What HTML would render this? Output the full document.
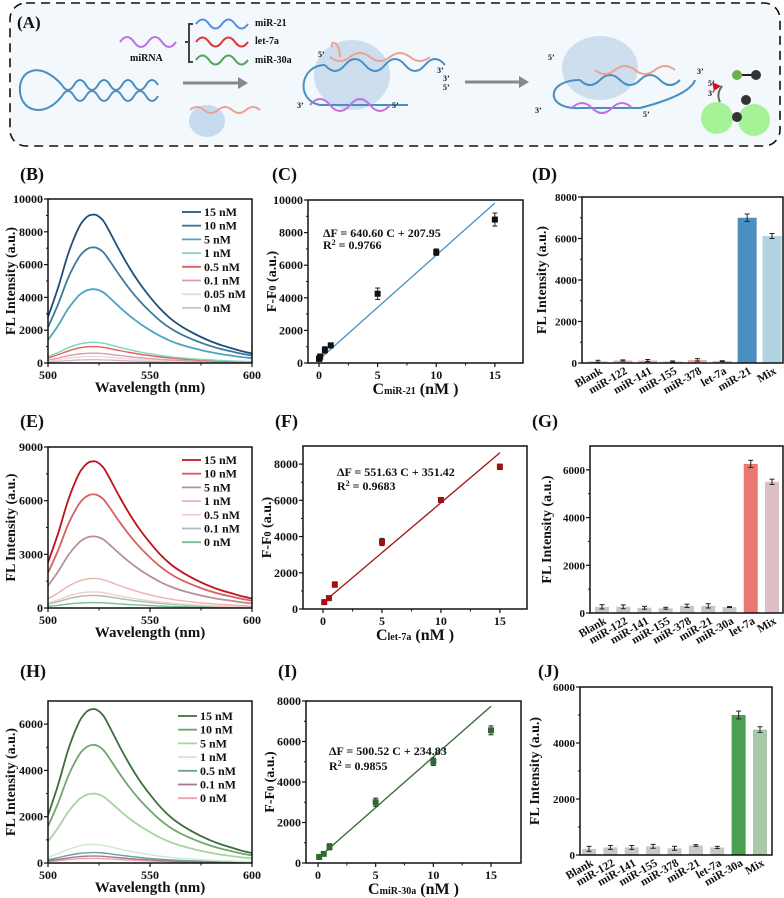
<!DOCTYPE html>
<html><head><meta charset="utf-8">
<style>
html,body{margin:0;padding:0;background:#fff;}
svg{display:block;font-family:"Liberation Serif",serif;}
text{font-weight:bold;fill:#111;}
</style></head>
<body>
<svg id="fig" width="784" height="898" viewBox="0 0 784 898" xmlns="http://www.w3.org/2000/svg">
<g>
  <rect x="10" y="3" width="770" height="143" rx="16" fill="#f3f8fc" stroke="#111" stroke-width="1.6" stroke-dasharray="9,6"/>
  <text x="17" y="28" font-size="17">(A)</text>
  <path d="M120 42 q7 -10 14 0 t14 0 t14 0 t14 0" fill="none" stroke="#c070e0" stroke-width="2"/>
  <text x="130" y="61" font-size="10">miRNA</text>
  <path d="M193 24 h-4 v38 h4 M189 42 h-4" fill="none" stroke="#444" stroke-width="2"/>
  <path d="M196 24 q6.5 -9 13 0 t13 0 t13 0 t13 0" fill="none" stroke="#5b8fd8" stroke-width="2"/>
  <path d="M196 42 q6.5 -9 13 0 t13 0 t13 0 t13 0" fill="none" stroke="#d83a3a" stroke-width="2"/>
  <path d="M196 60 q6.5 -9 13 0 t13 0 t13 0 t13 0" fill="none" stroke="#5aa060" stroke-width="2"/>
  <text x="255" y="26" font-size="10">miR-21</text>
  <text x="255" y="44" font-size="10">let-7a</text>
  <text x="255" y="63" font-size="10">miR-30a</text>
  <g fill="none" stroke="#4a8fc0" stroke-width="2">
    <path d="M62 85 C40 60 18 70 20 92 C22 112 45 118 62 96"/>
    <path d="M62 85 q6 10 12 0 t12 0 t12 0 t12 0 t12 0 t12 0 t12 0 t12 0"/>
    <path d="M62 96 q6 -10 12 0 t12 0 t12 0 t12 0 t12 0 t12 0 t12 0 t12 0"/>
  </g>
  <path d="M183 83 h56" stroke="#888" stroke-width="3"/>
  <path d="M238 77 l10 6 l-10 6z" fill="#888"/>
  <ellipse cx="207" cy="121" rx="18" ry="16" fill="#bcd3ea" opacity="0.8"/>
  <path d="M190 110 q7 -6 14 0 t14 0 t14 0 t14 0 t14 0" fill="none" stroke="#f0a090" stroke-width="2"/>
  <g>
    <ellipse cx="352" cy="75" rx="38" ry="35" fill="#bcd3ea" opacity="0.7"/>
    <path d="M325 65 C300 65 295 100 320 105 L408 105" fill="none" stroke="#4a8fc0" stroke-width="2"/>
    <path d="M325 65 q10 12 20 0 t20 0 t20 0 t20 0 t20 0 t20 0" fill="none" stroke="#4a8fc0" stroke-width="2"/>
    <path d="M330 57 q10 8 20 0 t20 0 t20 0 t20 0 t20 0" fill="none" stroke="#f0a090" stroke-width="2"/>
    <path d="M340 57 c0 -15 -10 -18 -8 -10" fill="none" stroke="#f0a090" stroke-width="2"/>
    <path d="M310 105 q10 -12 20 0 t20 0 t20 0 t20 0" fill="none" stroke="#c070e0" stroke-width="2"/>
    <text x="318" y="57" font-size="8">5’</text><text x="437" y="73" font-size="8">3’</text>
    <text x="443" y="81" font-size="8">3’</text><text x="443" y="90" font-size="8">5’</text>
    <text x="297" y="108" font-size="8">3’</text><text x="392" y="108" font-size="8">5’</text>
  </g>
  <path d="M465 82 h55" stroke="#888" stroke-width="3"/>
  <path d="M519 76 l10 6 l-10 6z" fill="#888"/>
  <g>
    <ellipse cx="600" cy="68" rx="38" ry="32" fill="#bcd3ea" opacity="0.7"/>
    <path d="M580 80 C545 80 545 110 580 108 L640 108 Q690 95 695 80" fill="none" stroke="#4a8fc0" stroke-width="2"/>
    <path d="M580 80 q10 10 20 0 t20 0 t20 0 t20 0 t20 0" fill="none" stroke="#4a8fc0" stroke-width="2"/>
    <path d="M595 70 q10 8 20 0 t20 0 t20 0 t20 0" fill="none" stroke="#f0a090" stroke-width="2"/>
    <path d="M572 108 q10 -10 20 0 t20 0 t20 0" fill="none" stroke="#c070e0" stroke-width="2"/>
    <text x="548" y="60" font-size="8">5’</text><text x="697" y="74" font-size="8">3’</text>
    <text x="535" y="113" font-size="8">3’</text><text x="643" y="117" font-size="8">5’</text>
  </g>
  <g>
    <circle cx="717" cy="118" r="16" fill="#66ee44" opacity="0.55"/>
    <circle cx="754" cy="120" r="16" fill="#66ee44" opacity="0.55"/>
    <circle cx="737" cy="75" r="5" fill="#6ab04a"/><path d="M742 75 h10" stroke="#222" stroke-width="2"/><circle cx="756" cy="75" r="5" fill="#333"/>
    <path d="M712 82 l9 4 l-7 5z" fill="#d01020"/>
    <path d="M722 86 q-6 8 -2 16" fill="none" stroke="#666" stroke-width="2"/>
    <circle cx="746" cy="100" r="5" fill="#333"/><circle cx="737" cy="117" r="5" fill="#333"/>
    <text x="708" y="86" font-size="8">5’</text><text x="708" y="96" font-size="8">3’</text>
  </g>
</g>
</svg>
<script>
// ===== Spectra data =====
const wavelengths = [500,505,510,515,518,520,522,524,527,530,535,540,545,550,555,560,565,570,575,580,585,590,595,600];
const spectrumShape = [0.31,0.51,0.74,0.91,0.97,0.993,1.0,0.995,0.96,0.89,0.76,0.64,0.535,0.445,0.365,0.30,0.25,0.21,0.175,0.145,0.12,0.10,0.08,0.065];
const concLabelsB = ["15 nM","10 nM","5 nM","1 nM","0.5 nM","0.1 nM","0.05 nM","0 nM"];
const peaksB = [9050,7050,4500,1260,1000,600,400,200];
const concLabelsE = ["15 nM","10 nM","5 nM","1 nM","0.5 nM","0.1 nM","0 nM"];
const peaksE = [8200,6350,4000,1650,900,700,300];
const concLabelsH = ["15 nM","10 nM","5 nM","1 nM","0.5 nM","0.1 nM","0 nM"];
const peaksH = [6650,5100,3000,800,450,300,200];
const yTicksB = [0,2000,4000,6000,8000,10000];
const yTicksE = [0,3000,6000,9000];
const yTicksH = [0,2000,4000,6000];
const xTicksSpec = [500,550,600];
// ===== Calibration data =====
const concC = [0,0.05,0.1,0.5,1,5,10,15];
const dfC = [250,300,400,800,1080,4250,6800,8800];
const errC = [80,80,100,200,150,350,200,400];
const fitC = [640.60,207.95];
const concF = [0.1,0.5,1,5,10,15];
const dfF = [380,600,1350,3700,6020,7850];
const errF = [120,80,150,200,120,150];
const fitF = [551.63,351.42];
const concI = [0.1,0.5,1,5,10,15];
const dfI = [300,450,800,3000,5000,6550];
const errI = [120,80,150,200,180,220];
const fitI = [500.52,234.83];
const xTicksCal = [0,5,10,15];
const yTicksC = [0,2000,4000,6000,8000,10000];
const yTicksF = [0,2000,4000,6000,8000];
const yTicksI = [0,2000,4000,6000,8000];
// ===== Selectivity data =====
const catsD = ["Blank","miR-122","miR-141","miR-155","miR-378","let-7a","miR-21","Mix"];
const valsD = [80,120,120,70,150,90,7000,6120];
const errsD = [50,30,50,30,60,20,180,120];
const catsG = ["Blank","miR-122","miR-141","miR-155","miR-378","miR-21","miR-30a","let-7a","Mix"];
const valsG = [260,260,220,200,300,300,250,6250,5500];
const errsG = [90,80,60,40,70,90,20,150,110];
const catsJ = ["Blank","miR-122","miR-141","miR-155","miR-378","miR-21","let-7a","miR-30a","Mix"];
const valsJ = [220,270,270,310,240,340,270,5000,4480];
const errsJ = [90,70,70,70,70,30,40,140,100];
const yTicksD = [0,2000,4000,6000,8000];
const yTicksG = [0,2000,4000,6000];
const yTicksJ = [0,2000,4000,6000];

const NS = "http://www.w3.org/2000/svg";
const svg = document.getElementById('fig');
function mk(tag, attrs, parent){
  const e = document.createElementNS(NS, tag);
  for (const k in attrs) e.setAttribute(k, attrs[k]);
  (parent||svg).appendChild(e);
  return e;
}
function lin(d0,d1,r0,r1){ return v => r0 + (v-d0)/(d1-d0)*(r1-r0); }
function smoothPath(pts){
  let d = 'M'+pts[0][0].toFixed(1)+' '+pts[0][1].toFixed(1);
  for (let i=0;i<pts.length-1;i++){
    const p0=pts[i-1]||pts[i], p1=pts[i], p2=pts[i+1], p3=pts[i+2]||p2;
    const c1=[p1[0]+(p2[0]-p0[0])/6, p1[1]+(p2[1]-p0[1])/6];
    const c2=[p2[0]-(p3[0]-p1[0])/6, p2[1]-(p3[1]-p1[1])/6];
    d += ' C'+c1[0].toFixed(1)+' '+c1[1].toFixed(1)+' '+c2[0].toFixed(1)+' '+c2[1].toFixed(1)+' '+p2[0].toFixed(1)+' '+p2[1].toFixed(1);
  }
  return d;
}

function frame(g, x0, x1, yT, yB){
  const f = mk('rect',{x:x0,y:yT,width:x1-x0,height:yB-yT,fill:'none',stroke:'#111','stroke-width':1.5},g);
  
  
}
function yAxis(g, ys, ticks, x0, fs){
  const ga = mk('g',{},g);
  
  
  ticks.forEach(t=>{
    mk('line',{x1:x0-4,x2:x0,y1:ys(t),y2:ys(t),stroke:'#111','stroke-width':1.2},ga);
    const tx = mk('text',{x:x0-5,y:ys(t)+4,'font-size':fs||12,'text-anchor':'end'},ga);
    tx.textContent = t;
    
    
  });
  for (let i=0;i<ticks.length-1;i++){
    const m=(ticks[i]+ticks[i+1])/2;
    mk('line',{x1:x0-2,x2:x0,y1:ys(m),y2:ys(m),stroke:'#111','stroke-width':1},ga);
  }
}
function xAxis(g, xs, ticks, yB){
  const ga = mk('g',{},g);
  
  
  ticks.forEach(t=>{
    mk('line',{x1:xs(t),x2:xs(t),y1:yB,y2:yB+4,stroke:'#111','stroke-width':1.2},ga);
    const tx = mk('text',{x:xs(t),y:yB+16,'font-size':12,'text-anchor':'middle'},ga);
    tx.textContent = t;
    
    
  });
  for (let i=0;i<ticks.length-1;i++){
    const m=(ticks[i]+ticks[i+1])/2;
    mk('line',{x1:xs(m),x2:xs(m),y1:yB,y2:yB+2.5,stroke:'#111','stroke-width':1},ga);
  }
}
function yLabel(g, x, yc, html){
  const t = mk('text',{x:x,y:yc,'font-size':14,'text-anchor':'middle',transform:`rotate(-90 ${x} ${yc})`},g);
  t.innerHTML = html;
  
  
}
function panelLabel(x,y,s){
  const t = mk('text',{x:x,y:y,'font-size':18});
  t.textContent = s;
  
  
}

function spectra(id, x0,x1,yT,yB,ymax,peaks,labels,colors,yTicks,legX,legY){
  const g = mk('g',{});
  
  
  const xs = lin(500,600,x0,x1), ys = lin(0,ymax,yB,yT);
  for (let s=peaks.length-1;s>=0;s--){
    const pts = wavelengths.map((w,i)=>[xs(w), ys(peaks[s]*spectrumShape[i])]);
    const p = mk('path',{d:smoothPath(pts),fill:'none',stroke:colors[s],'stroke-width':s<3?1.8:1.4,'stroke-linejoin':'round'},g);
    
    
  }
  frame(g,x0,x1,yT,yB);
  yAxis(g,ys,yTicks,x0);
  xAxis(g,xs,xTicksSpec,yB);
  const xl = mk('text',{x:(x0+x1)/2,y:yB+29,'font-size':15,'text-anchor':'middle'},g);
  xl.textContent='Wavelength (nm)';
  
  
  yLabel(g,15,(yT+yB)/2,'FL Intensity (a.u.)');
  const lg = mk('g',{},g);
  
  
  labels.forEach((l,i)=>{
    const y = legY + i*13.7;
    const e = mk('g',{},lg);
    
    
    mk('line',{x1:legX,x2:legX+19,y1:y,y2:y,stroke:colors[i],'stroke-width':1.8},e);
    const t = mk('text',{x:legX+22,y:y+4,'font-size':12},e);
    t.textContent = l;
  });
}

function calib(id,x0,x1,yT,yB,xmin,xmax,ymax,conc,df,err,fit,yTicks,color,sub,eqX,eqY){
  const g = mk('g',{});
  
  
  const xs = lin(xmin,xmax,x0,x1), ys = lin(0,ymax,yB,yT);
  const fl = mk('line',{x1:xs(0),y1:ys(fit[1]),x2:xs(15),y2:ys(fit[0]*15+fit[1]),stroke:color,'stroke-width':1.3},g);
  
  
  conc.forEach((c,i)=>{
    const pg = mk('g',{},g);
    
    
    const cx=xs(c), cy=ys(df[i]), e1=ys(df[i]+err[i]), e2=ys(df[i]-err[i]);
    mk('line',{x1:cx,x2:cx,y1:e1,y2:e2,stroke:'#222','stroke-width':1},pg);
    mk('line',{x1:cx-2.5,x2:cx+2.5,y1:e1,y2:e1,stroke:'#222','stroke-width':1},pg);
    mk('line',{x1:cx-2.5,x2:cx+2.5,y1:e2,y2:e2,stroke:'#222','stroke-width':1},pg);
    mk('rect',{x:cx-3,y:cy-3,width:6,height:6,fill:color==='#4a8fc0'?'#111':color},pg);
  });
  frame(g,x0,x1,yT,yB);
  yAxis(g,ys,yTicks,x0);
  xAxis(g,xs,xTicksCal,yB);
  const xl = mk('text',{x:(x0+x1)/2,y:yB+31,'font-size':16,'text-anchor':'middle'},g);
  xl.innerHTML = 'C<tspan font-size="10">'+sub+'</tspan> (nM )';
  
  
  yLabel(g,x0-32,(yT+yB)/2,'F-F<tspan font-size="10">0</tspan> (a.u.)');
  const eq = mk('text',{x:eqX,y:eqY,'font-size':12},g);
  eq.textContent = 'ΔF = '+fit[0].toFixed(2)+' C + '+fit[1].toFixed(2);
  
  
}

function bars(id,x0,x1,yT,yB,ymax,cats,vals,errs,colors,yTicks,c0,c1,bw,ylx){
  const g = mk('g',{});
  
  
  const ys = lin(0,ymax,yB,yT);
  const step = (c1-c0)/(cats.length-1);
  cats.forEach((c,i)=>{
    const cx = c0 + i*step;
    const bg = mk('g',{},g);
    
    
    mk('rect',{x:cx-bw/2,y:ys(vals[i]),width:bw,height:yB-ys(vals[i]),fill:colors[i]},bg);
    const e1=ys(vals[i]+errs[i]), e2=ys(vals[i]-errs[i]);
    mk('line',{x1:cx,x2:cx,y1:e1,y2:e2,stroke:'#222','stroke-width':1},bg);
    mk('line',{x1:cx-2.5,x2:cx+2.5,y1:e1,y2:e1,stroke:'#222','stroke-width':1},bg);
    mk('line',{x1:cx-2.5,x2:cx+2.5,y1:e2,y2:e2,stroke:'#222','stroke-width':1},bg);
    const t = mk('text',{x:cx+5,y:yB+10,'font-size':11.5,'text-anchor':'end',transform:`rotate(-30 ${cx+5} ${yB+10})`},g);
    t.textContent = c;
    
    
  });
  frame(g,x0,x1,yT,yB);
  yAxis(g,ys,yTicks,x0,11);
  yLabel(g,ylx,(yT+yB)/2,'FL Intensity (a.u.)');
}

panelLabel(20,180,'(B)'); panelLabel(272,180,'(C)'); panelLabel(532,180,'(D)');
panelLabel(20,427,'(E)'); panelLabel(275,427,'(F)'); panelLabel(532,427,'(G)');
panelLabel(20,677,'(H)'); panelLabel(278,677,'(I)'); panelLabel(538,677,'(J)');

spectra('b',48,252,199,363,10000,peaksB,concLabelsB,
  ['#1f4e79','#3d7a99','#4aa6c0','#7fd3c0','#e06060','#d9a0a8','#f0d8dc','#d8b8c8'],yTicksB,182,212);
spectra('e',48,252,447,608,9000,peaksE,concLabelsE,
  ['#c0101a','#d86060','#b89098','#f0b0b0','#f0d0d0','#b0b8b8','#70c090'],yTicksE,182,460);
spectra('h',48,252,701,863,7000,peaksH,concLabelsH,
  ['#3a6e3a','#6fa66f','#a8d4a0','#d0e8cc','#6aa0a0','#a07890','#f0a0a8'],yTicksH,178,716);

calib('c',308,523,200,363,-0.94,17.4,10000,concC,dfC,errC,fitC,yTicksC,'#4a8fc0','miR-21',323,237);
calib('f',303,527,446,609,-1.7,17.3,9000,concF,dfF,errF,fitF,yTicksF,'#a01010','let-7a',337,476);
calib('i',306,521,701,863,-1.04,17.6,8000,concI,dfI,errI,fitI,yTicksI,'#2f6b2f','miR-30a',329,755);
[['c',323,249,'0.9766'],['f',337,490,'0.9683'],['i',329,770,'0.9855']].forEach(r=>{
  const t = mk('text',{x:r[1],y:r[2],'font-size':12});
  t.innerHTML = 'R<tspan font-size="8" dy="-4">2</tspan><tspan dy="4"> = '+r[3]+'</tspan>';
  
  
});

bars('d',582,783,197,363,8000,catsD,valsD,errsD,
  ['#eab0b0','#eab0b0','#eab0b0','#eab0b0','#eab0b0','#eab0b0','#4a8fc0','#b0d4e0'],yTicksD,598,772,19,546);
bars('g',590,783,446,613,7000,catsG,valsG,errsG,
  ['#c8c8c8','#c8c8c8','#c8c8c8','#c8c8c8','#c8c8c8','#c8c8c8','#c8c8c8','#e87870','#dcc0c4'],yTicksG,602,772,14,551);
bars('j',580,772,687,855,6000,catsJ,valsJ,errsJ,
  ['#c8c8c8','#c8c8c8','#c8c8c8','#c8c8c8','#c8c8c8','#c8c8c8','#c8c8c8','#4aa050','#a8c8a8'],yTicksJ,589,760,14,539);
</script>
</body></html>
